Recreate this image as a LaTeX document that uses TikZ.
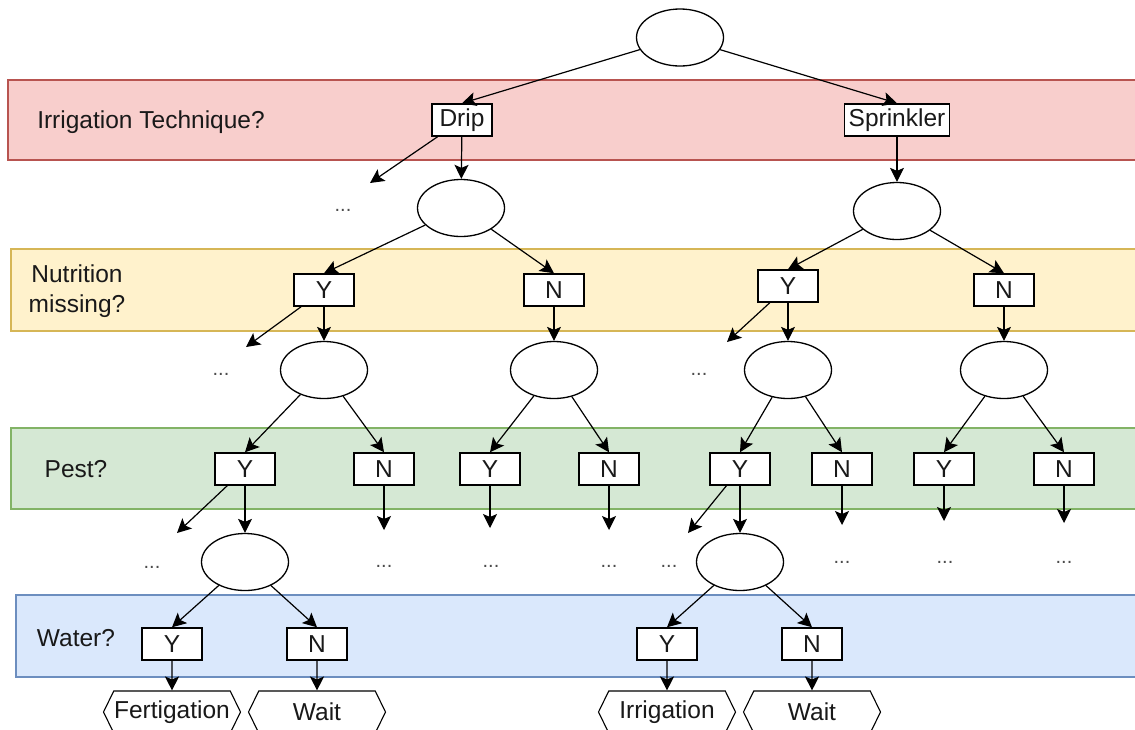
\documentclass[tikz,border=0pt]{standalone}
\usepackage{fontspec}
\setmainfont{Liberation Sans}
\usetikzlibrary{shapes.geometric,shapes.symbols,arrows.meta}
\definecolor{redfill}{HTML}{F8CECC}
\definecolor{redline}{HTML}{B85450}
\definecolor{yelfill}{HTML}{FFF2CC}
\definecolor{yelline}{HTML}{D6B656}
\definecolor{grnfill}{HTML}{D5E8D4}
\definecolor{grnline}{HTML}{82B366}
\definecolor{blufill}{HTML}{DAE8FC}
\definecolor{bluline}{HTML}{6C8EBF}
\begin{document}
\begin{tikzpicture}[x=1pt,y=-1pt,
  every node/.style={font=\fontsize{24.5}{30}\selectfont, text=black!90},
  oval/.style={ellipse, draw, line width=1.3pt, minimum width=87pt, minimum height=57pt, inner sep=0pt, fill=white},
  box/.style={rectangle, draw, line width=1.5pt, fill=white, minimum height=32pt, minimum width=60pt, inner sep=0pt},
  hexa/.style={signal, signal to=west and east, signal pointer angle=128, draw, line width=1.1pt, fill=white, minimum width=137pt, minimum height=42pt, inner sep=0pt},
  dots/.style={font=\fontsize{20}{24}\selectfont, text=black!70, inner sep=1pt},
  arr/.style={-{Stealth[length=14pt,width=14pt,inset=3pt]}, line width=1.2pt},
  band/.style={line width=1.2pt},
  lbl/.style={inner sep=0pt, align=center}
]
\useasboundingbox (0,0) rectangle (1135,729);
% bands
\draw[band, draw=redline, fill=redfill] (8,80) rectangle (1145,160);
\draw[band, draw=yelline, fill=yelfill] (11,249) rectangle (1145,331);
\draw[band, draw=grnline, fill=grnfill] (11,428) rectangle (1145,509);
\draw[band, draw=bluline, fill=blufill] (16,595) rectangle (1145,677);
% band labels
\node[lbl] (l1) at (151,122) {Irrigation Technique?};
\node[lbl] (l2) at (77,291) {Nutrition\\missing?};
\node[lbl] (l3) at (76,469) {Pest?};
\node[lbl] (l4) at (76,638) {Water?};
% level 0
\node[oval] (r0) at (680,37.5) {};
\node[box] (drip) at (462,120) {Drip};
\node[box, minimum width=105pt] (spr) at (897,120) {Sprinkler};
% level 1
\node[oval] (e2) at (461,208) {};
\node[oval] (e3) at (897,211) {};
\node[box] (y1) at (324,290) {Y};
\node[box] (n1) at (554,290) {N};
\node[box] (y2) at (788,286) {Y};
\node[box] (n2) at (1004,290) {N};
% level 2
\node[oval] (e4) at (324,370) {};
\node[oval] (e5) at (554,370) {};
\node[oval] (e6) at (788,370) {};
\node[oval] (e7) at (1004,370) {};
\node[box] (py1) at (245,469) {Y};
\node[box] (pn1) at (384,469) {N};
\node[box] (py2) at (490,469) {Y};
\node[box] (pn2) at (609,469) {N};
\node[box] (py3) at (740,469) {Y};
\node[box] (pn3) at (842,469) {N};
\node[box] (py4) at (944,469) {Y};
\node[box] (pn4) at (1064,469) {N};
% level 3
\node[oval] (e8) at (245,562) {};
\node[oval] (e9) at (740,562) {};
\node[box] (wy1) at (172,644) {Y};
\node[box] (wn1) at (317,644) {N};
\node[box] (wy2) at (667,644) {Y};
\node[box] (wn2) at (812,644) {N};
% outcomes
\node[hexa] (fert) at (172,712) {Fertigation};
\node[hexa] (wait1) at (317,712) {Wait};
\node[hexa] (irr) at (667,712) {Irrigation};
\node[hexa] (wait2) at (812,712) {Wait};
% dots
\node[dots] (d1) at (343,210) {...};
\node[dots] (d2) at (221,374) {...};
\node[dots] (d3) at (699,374) {...};
\node[dots] (d4) at (152,567) {...};
\node[dots] (d5) at (384,566) {...};
\node[dots] (d6) at (491,566) {...};
\node[dots] (d7) at (609,566) {...};
\node[dots] (d8) at (669,566) {...};
\node[dots] (d9) at (842,562) {...};
\node[dots] (d10) at (945,562) {...};
\node[dots] (d11) at (1064,562) {...};
% free arrow ends
\coordinate (c1) at (370,183);
\coordinate (c2) at (246,347);
\coordinate (c3) at (727,342);
\coordinate (c4) at (177,533);
\coordinate (c5) at (384,530);
\coordinate (c6) at (490,528);
\coordinate (c7) at (609,530);
\coordinate (c8) at (688,533);
\coordinate (c9) at (842,525);
\coordinate (c10) at (944,521);
\coordinate (c11) at (1064,523);
% connectors
\draw[arr] (r0) -- (drip.north);
\draw[arr] (r0) -- (spr.north);
\draw[arr] (drip) -- (c1);
\draw[arr] (drip) -- (e2);
\draw[arr] (spr) -- (e3);
\draw[arr] (e2) -- (y1.north);
\draw[arr] (e2) -- (n1.north);
\draw[arr] (e3) -- (y2.north);
\draw[arr] (e3) -- (n2.north);
\draw[arr] (y1) -- (c2);
\draw[arr] (y1) -- (e4);
\draw[arr] (n1) -- (e5);
\draw[arr] (y2) -- (c3);
\draw[arr] (y2) -- (e6);
\draw[arr] (n2) -- (e7);
\draw[arr] (e4) -- (py1.north);
\draw[arr] (e4) -- (pn1.north);
\draw[arr] (e5) -- (py2.north);
\draw[arr] (e5) -- (pn2.north);
\draw[arr] (e6) -- (py3.north);
\draw[arr] (e6) -- (pn3.north);
\draw[arr] (e7) -- (py4.north);
\draw[arr] (e7) -- (pn4.north);
\draw[arr] (py1) -- (c4);
\draw[arr] (py1) -- (e8);
\draw[arr] (pn1) -- (c5);
\draw[arr] (py2) -- (c6);
\draw[arr] (pn2) -- (c7);
\draw[arr] (py3) -- (c8);
\draw[arr] (py3) -- (e9);
\draw[arr] (pn3) -- (c9);
\draw[arr] (py4) -- (c10);
\draw[arr] (pn4) -- (c11);
\draw[arr] (e8) -- (wy1.north);
\draw[arr] (e8) -- (wn1.north);
\draw[arr] (e9) -- (wy2.north);
\draw[arr] (e9) -- (wn2.north);
\draw[arr] (wy1) -- (fert);
\draw[arr] (wn1) -- (wait1);
\draw[arr] (wy2) -- (irr);
\draw[arr] (wn2) -- (wait2);
\end{tikzpicture}
\end{document}
